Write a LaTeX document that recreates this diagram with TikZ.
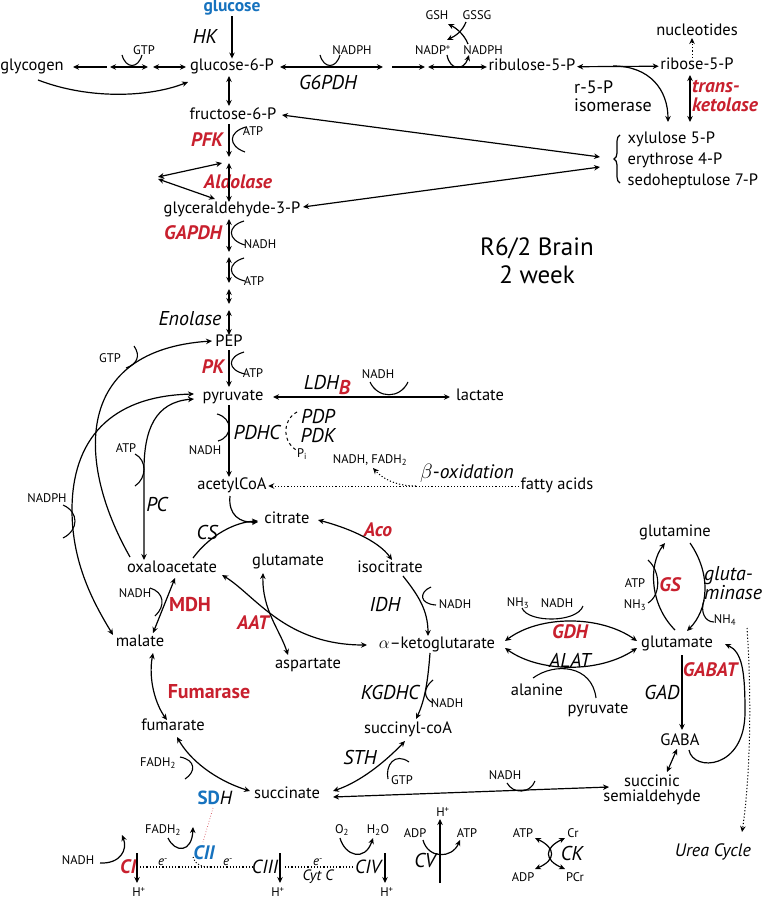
\documentclass[tikz,border=0pt]{standalone}
\usepackage{fontspec}
\setmainfont{PT Sans}
\usetikzlibrary{arrows.meta,positioning,decorations.pathreplacing}
\definecolor{enzred}{RGB}{200,32,46}
\definecolor{enzblue}{RGB}{22,114,190}
\tikzset{
  lbl/.style={font=\fontsize{16.5}{17}\selectfont, inner sep=1.5pt},
  met/.style={lbl, text height=10.5pt, text depth=3pt},
  cof/.style={font=\fontsize{12.5}{13}\selectfont, inner sep=1pt},
  enz/.style={font=\fontsize{20}{18}\selectfont\itshape, inner sep=1pt},
  hot/.style={font=\fontsize{19.5}{18}\selectfont\bfseries\itshape, text=enzred, inner sep=1pt},
  hotup/.style={font=\fontsize{20}{18}\selectfont\bfseries, text=enzred, inner sep=1pt},
  rxn/.style={line width=1.2pt, >={Stealth[length=6pt,width=5.5pt]}},
  cup/.style={line width=1.1pt},
}
\begin{document}
\begin{tikzpicture}[x=1pt,y=-1pt]
  \useasboundingbox (0,0) rectangle (767,901);
  % metabolites
  \def\mets{glycogen/32/67/glycogen, gsixp/232/67/glucose-6-P, rul/532/67/ribulose-5-P,
    rib/697/66/ribose-5-P, nuc/697/32/nucleotides, fsixp/233/116/fructose-6-P,
    gap/232/210/glyceraldehyde-3-P, pep/229/343/PEP, pyr/233/397/pyruvate, lac/480/397/lactate,
    accoa/232/486/acetylCoA, fatty/557/486/fatty acids, cit/287/520/citrate, oaa/172/569/oxaloacetate,
    glua/288/562/glutamate, icit/390/569/isocitrate, akg/437/645/$\alpha$--ketoglutarate,
    mal/140/643/malate, asp/308/665/aspartate, fum/173/727/fumarate, sccoa/408/730/succinyl-coA,
    succ/287/795/succinate, gaba/680/742/GABA, glub/677/644/glutamate, gln/675/533/glutamine,
    ala/537/692/alanine, pyrb/598/710/pyruvate}
  \foreach \n/\x/\y/\t in \mets
    \node[met] (\n) at (\x,\y) {\t};
  \node[met, font=\fontsize{17.5}{17}\selectfont\bfseries, text=enzblue] (glc) at (232,8) {glucose};
  \node[lbl, align=center, font=\fontsize{16.5}{15}\selectfont] (ssa) at (652,790) {succinic\\semialdehyde};
  \node[lbl, align=left, anchor=west, font=\fontsize{16.5}{21}\selectfont] (pool) at (626,160)
    {xylulose 5-P\\erythrose 4-P\\sedoheptulose 7-P};
  \node[font=\fontsize{25}{28}\selectfont, align=center] (title) at (537,261) {R6/2 Brain\\2 week};

  % enzymes
  \def\enzs{hk/205/37/HK, gsixpdh/328/83/G6PDH, eno/190/319/Enolase, pdhc/257/432/PDHC,
    pdp/318/417/PDP, pdk/318/436/PDK, pc/157/504/PC, cs/207/532/CS, idh/385/605/IDH,
    kgdhc/390/692/KGDHC, sth/360/757/STH, alat/570/660/ALAT, gad/662/692/GAD, cv/425/860/CV, ck/572/853/CK}
  \foreach \n/\x/\y/\t in \enzs
    \node[enz] (\n) at (\x,\y) {\t};
  \node[enz, font=\fontsize{18}{18}\selectfont\itshape] (urea) at (713,852) {Urea Cycle};
  \node[enz, font=\fontsize{19}{18}\selectfont\itshape] (ciii) at (265,867) {CIII};
  \node[enz, font=\fontsize{19}{18}\selectfont\itshape] (civ) at (368,867) {CIV};
  \def\hots{pfk/207/140/PFK, aldo/238/182/Aldolase, gapdh/193/233/GAPDH, pk/213/367/PK,
    aco/378/530/Aco, aat/253/623/AAT, gs/670/585/GS, gdh/570/632/GDH, gabat/710/670/GABAT, ci/128/867/CI}
  \foreach \n/\x/\y/\t in \hots
    \node[hot] (\n) at (\x,\y) {\t};
  \node[hotup] (mdh) at (190,605) {MDH};
  \node[hotup] (fumase) at (209,692) {Fumarase};
  \node[hot, text=enzblue] (cii) at (204,853) {CII};
  \node[enz] (ldh) at (327,385) {LDH\raisebox{-5pt}{\textcolor{enzred}{\bfseries B}}};
  \node[lbl, font=\fontsize{19}{17}\selectfont] (sdh) at (215,798) {\textcolor{enzblue}{\bfseries SD}\textit{H}};
  \node[enz, anchor=west, align=left, font=\fontsize{18}{18}\selectfont, inner sep=0pt] (rpi) at (574,96) {r-5-P\\isomerase};
  \node[hot, anchor=west, align=left, font=\fontsize{19.5}{19.5}\selectfont\bfseries\itshape, inner sep=0pt] (tk) at (692,96) {trans-\\ketolase};
  \node[enz, anchor=west, align=left, font=\fontsize{20}{18}\selectfont\itshape] (glnase) at (703,583) {gluta-\\minase};
  \node[font=\fontsize{19.5}{18}\selectfont] (box) at (467,473) {$\beta$-\textit{oxidation}};

  % cofactors
  \def\cofs{144/50/GTP, 352/50/NADPH, 433/50/NADP\textsuperscript{+}, 483/50/NADPH, 437/15/GSH, 477/15/GSSG,
    253/131/ATP, 260/244/NADH, 254/281/ATP, 253/373/ATP, 110/358/GTP, 378/374/NADH,
    205/450/NADH, 126/448/ATP, 47/498/NADPH, 302/454/P\textsubscript{i}, 370/460/{NADH, FADH\textsubscript{2}},
    135/593/NADH, 455/604/NADH, 447/703/NADH, 402/780/GTP, 158/763/FADH\textsubscript{2},
    505/775/NADH, 518/603/NH\textsubscript{3}, 557/603/NADH, 635/583/ATP, 635/605/NH\textsubscript{3},
    725/620/NH\textsubscript{4}, 78/860/NADH, 163/830/FADH\textsubscript{2}, 342/830/O\textsubscript{2},
    378/830/H\textsubscript{2}O, 139/892/H\textsuperscript{+}, 278/892/H\textsuperscript{+},
    387/892/H\textsuperscript{+}, 443/812/H\textsuperscript{+}, 415/833/ADP, 467/833/ATP,
    523/833/ATP, 573/833/Cr, 523/877/ADP, 575/877/PCr}
  \foreach \x/\y/\t [count=\i] in \cofs
    \node[cof] (cof\i) at (\x,\y) {\t};
  \foreach \x in {163, 228, 318}
    \node[cof, font=\fontsize{13}{13}\selectfont\itshape] (el\x) at (\x,862) {e\textsuperscript{-}};
  \node[cof, font=\fontsize{15}{14}\selectfont\itshape] (cytc) at (318,877) {Cyt C};

  % glycogen and pentose phosphate
  \draw[rxn,->] (glc) -- (gsixp);
  \draw[rxn,<-] (73,67) -- (107,67);
  \draw[rxn,<->] (110,67) -- (148,67);
  \draw[rxn,<->] (153,67) -- (186,67);
  \draw[cup] (122,55) .. controls (126,69) and (138,69) .. (142,55);
  \draw[rxn,->] (38,80) .. controls (90,100) and (150,97) .. (188,82);
  \draw[rxn,<->] (280,67) -- (383,67);
  \draw[cup] (320,55) .. controls (324,69) and (336,69) .. (340,55);
  \draw[rxn,->] (392,67) -- (425,67);
  \draw[rxn,<->] (428,67) -- (rul);
  \draw[rxn,->] (447,55) .. controls (450,71) and (464,71) .. (469,55);
  \draw[rxn,->] (466,22) .. controls (462,32) and (455,36) .. (447,40);
  \draw[rxn,->] (468,44) .. controls (464,34) and (456,28) .. (448,24);
  \draw[rxn,<->] (rul) -- (rib);
  \draw[rxn,->] (613,66) .. controls (650,66) and (668,90) .. (668,122);
  \draw[rxn,->,dotted,line width=1pt] (692,58) -- (692,38);
  \draw[rxn,<->] (690,75) -- (690,122);
  \draw[line width=1.2pt, decorate, decoration={brace,amplitude=6pt}] (620,183) -- (620,135);
  \draw[rxn,<->] (282,115) -- (600,157);
  \draw[rxn,<->] (303,207) -- (600,167);

  % glycolysis
  \draw[rxn,<->] (229,76) -- (229,106);
  \draw[rxn,->] (229,124) -- (229,157);
  \draw[cup] (246,127) .. controls (228,132) and (228,146) .. (245,152);
  \draw[rxn,<->] (229,163) -- (229,202);
  \draw[rxn,<->] (158,177) -- (222,163);
  \draw[rxn,<->] (158,179) -- (215,199);
  \draw[rxn,<->] (229,219) -- (229,252);
  \draw[cup] (244,221) .. controls (227,226) and (227,240) .. (245,245);
  \draw[rxn,<->] (229,257) -- (229,283);
  \draw[cup] (244,258) .. controls (227,263) and (227,277) .. (245,281);
  \draw[rxn,<->] (229,289) -- (229,304);
  \draw[rxn,<->] (229,310) -- (229,335);
  \draw[rxn,->] (229,350) -- (229,387);
  \draw[cup] (244,352) .. controls (227,357) and (227,370) .. (245,374);
  \draw[rxn,<->] (273,397) -- (450,397);
  \draw[cup] (370,382) .. controls (378,399) and (400,399) .. (408,382);
  \draw[rxn,->] (229,405) -- (229,477);
  \draw[cup] (217,414) .. controls (233,418) and (233,437) .. (218,441);
  \draw[dashed, line width=1pt] (297,412) .. controls (282,420) and (282,443) .. (298,451);
  \draw[rxn,->,dotted,line width=1pt] (fatty) -- (accoa);
  \draw[rxn,->,dotted,line width=1pt] (416,486) .. controls (395,486) and (382,478) .. (373,468);

  % anaplerosis
  \draw[rxn,->] (130,557) .. controls (75,460) and (75,350) .. (212,341);
  \draw[cup] (134,346) .. controls (141,356) and (137,364) .. (126,368);
  \draw[rxn,<->] (194,394) .. controls (110,396) and (72,440) .. (72,510) .. controls (72,565) and (95,605) .. (113,635);
  \draw[cup] (63,505) .. controls (79,512) and (79,530) .. (63,538);
  \draw[rxn,<->] (194,399) .. controls (155,402) and (144,430) .. (144,470) -- (144,560);
  \draw[cup] (135,454) .. controls (147,460) and (147,478) .. (135,486);

  % TCA cycle
  \draw[rxn,->] (230,496) .. controls (228,515) and (240,523) .. (258,522);
  \draw[rxn,->] (193,558) .. controls (210,535) and (235,522) .. (258,521);
  \draw[rxn,<->] (318,520) .. controls (345,527) and (378,540) .. (392,560);
  \draw[rxn,->] (403,576) .. controls (418,595) and (428,610) .. (428,636);
  \draw[cup] (431,587) .. controls (419,592) and (419,604) .. (436,605);
  \draw[rxn,->] (430,653) .. controls (428,680) and (425,700) .. (416,719);
  \draw[cup] (433,680) .. controls (423,688) and (423,698) .. (433,703);
  \draw[rxn,<->] (405,741) .. controls (385,762) and (360,782) .. (333,791);
  \draw[cup] (409,762) .. controls (395,752) and (385,765) .. (388,779);
  \draw[rxn,<->] (333,797) -- (609,787);
  \draw[cup] (507,783) .. controls (513,794) and (530,794) .. (535,781);
  \draw[rxn,<->] (250,791) .. controls (215,780) and (190,760) .. (177,737);
  \draw[cup] (180,757) .. controls (196,760) and (196,772) .. (185,779);
  \draw[rxn,<->] (153,653) .. controls (148,680) and (156,705) .. (167,720);
  \draw[rxn,<->] (175,578) -- (153,633);
  \draw[cup] (150,588) .. controls (164,592) and (166,606) .. (155,616);
  \draw[rxn,<->] (222,575) .. controls (255,595) and (285,645) .. (367,645);
  \draw[rxn,<->] (263,573) .. controls (262,610) and (280,630) .. (288,655);

  % amino acids
  \draw[rxn,<->] (505,641) .. controls (540,615) and (600,615) .. (637,641);
  \draw[rxn,<->] (505,648) .. controls (540,673) and (600,673) .. (637,648);
  \draw[cup] (522,608) .. controls (528,623) and (577,623) .. (583,606);
  \draw[cup] (533,678) .. controls (555,662) and (592,665) .. (596,698);
  \draw[rxn,->] (675,630) .. controls (650,605) and (648,565) .. (665,543);
  \draw[cup] (648,560) .. controls (661,572) and (661,595) .. (648,603);
  \draw[rxn,->] (690,543) .. controls (712,575) and (708,610) .. (687,631);
  \draw[cup] (704,600) .. controls (700,612) and (705,622) .. (714,622);
  \draw[rxn,->,dotted,line width=1pt] (747,628) .. controls (752,700) and (750,780) .. (742,832);
  \draw[rxn,->] (682,655) -- (682,730);
  \draw[rxn,<->] (677,749) -- (667,772);
  \draw[rxn,->] (689,750) .. controls (693,772) and (745,770) .. (745,712) .. controls (745,670) and (742,652) .. (725,644);

  % electron transport
  \draw[dotted, enzred!80, line width=0.7pt] (213,808) -- (203,842);
  \draw[dotted, line width=1.2pt] (140,867) -- (253,867);
  \draw[dotted, line width=1.2pt] (285,867) -- (355,867);
  \draw[dotted, line width=1pt] (193,857) .. controls (196,866) and (203,867) .. (210,867);
  \draw[rxn,->] (137,853) -- (137,883);
  \draw[rxn,->] (280,853) -- (280,883);
  \draw[rxn,->] (385,853) -- (385,883);
  \draw[rxn,->] (440,883) -- (440,819);
  \draw[rxn,->] (100,863) .. controls (120,864) and (128,850) .. (122,835);
  \draw[rxn,->] (168,838) .. controls (175,853) and (192,853) .. (193,827);
  \draw[rxn,->] (340,838) .. controls (345,856) and (365,862) .. (373,838);
  \draw[rxn,->] (423,840) .. controls (428,859) and (452,859) .. (460,840);
  \draw[rxn,<->] (535,838) .. controls (556,848) and (556,860) .. (535,869);
  \draw[rxn,<->] (565,838) .. controls (544,848) and (544,860) .. (565,869);
\end{tikzpicture}
\end{document}
